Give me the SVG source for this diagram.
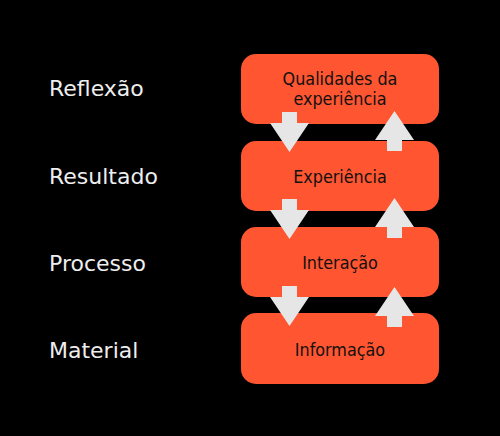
<svg xmlns="http://www.w3.org/2000/svg" width="500" height="436" viewBox="0 0 500 436">
<style>
.box{fill:#FF5530;}
.bt{font-family:"DejaVu Sans Condensed","DejaVu Sans",sans-serif;font-size:17.8px;fill:#111;text-anchor:middle;}
.lt{font-family:"DejaVu Sans",sans-serif;font-size:22px;fill:#EEEEEE;}
.ar{fill:#E6E6E6;}
</style>
<rect width="500" height="436" fill="#000"/>
<g id="labels">
<text class="lt" x="49" y="96">Reflexão</text>
<text class="lt" x="49" y="184">Resultado</text>
<text class="lt" x="49" y="271">Processo</text>
<text class="lt" x="49" y="358">Material</text>
</g>
<g id="n1"><rect class="box" x="241" y="54" width="198" height="70" rx="15"/>
<text class="bt" x="340" y="85">Qualidades da</text><text class="bt" x="340" y="105">experiência</text></g>
<g id="n2"><rect class="box" x="241" y="141" width="198" height="70" rx="15"/>
<text class="bt" x="340" y="183">Experiência</text></g>
<g id="n3"><rect class="box" x="241" y="227" width="198" height="70" rx="15"/>
<text class="bt" x="340" y="269">Interação</text></g>
<g id="n4"><rect class="box" x="241" y="313" width="198" height="71" rx="15"/>
<text class="bt" x="340" y="356">Informação</text></g>
<g id="connectors">
<defs>
<path id="down" d="M-7.5,0 H7.5 V11 H19.5 L0,40 L-19.5,11 H-7.5 Z"/>
<path id="up" d="M-7.5,40 H7.5 V29 H19.5 L0,0 L-19.5,29 H-7.5 Z"/>
</defs>
<use href="#down" class="ar" x="289.5" y="112"/>
<use href="#down" class="ar" x="289.5" y="199"/>
<use href="#down" class="ar" x="289.5" y="286"/>
<use href="#up" class="ar" x="394.5" y="111"/>
<use href="#up" class="ar" x="394.5" y="198"/>
<use href="#up" class="ar" x="394.5" y="287"/>
</g>
</svg>
